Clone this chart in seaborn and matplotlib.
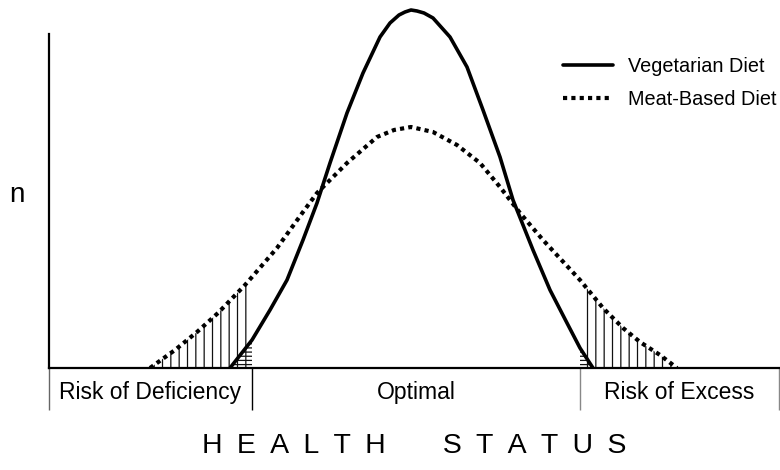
import numpy as np
import seaborn as sns
import matplotlib.pyplot as plt
from matplotlib.transforms import blended_transform_factory

# health status (arbitrary units) vs n
veg_x = [181, 203, 221, 238, 254, 268, 281, 298, 314, 331, 341, 350, 356, 362, 368,
         375, 384, 401, 418, 434, 451, 464, 484, 501, 518, 531, 544]
veg_y = [0, 28, 58, 88, 128, 165, 205, 255, 295, 331, 345, 353, 356, 358, 357,
         355, 350, 331, 301, 258, 211, 168, 118, 78, 45, 20, 0]

meat_x = [101, 126, 148, 169, 196, 203, 228, 254, 268, 298, 328, 345, 362, 384,
          408, 431, 451, 471, 494, 531, 554, 574, 591, 611, 628]
meat_y = [0, 18, 36, 55, 83, 91, 120, 156, 175, 205, 231, 238, 241, 236,
          223, 205, 181, 155, 128, 88, 60, 40, 26, 13, 0]

zone_edges = [0, 203, 531, 730]
zone_labels = ["Risk of Deficiency", "Optimal", "Risk of Excess"]

sns.set_theme(style="white")
plt.rcParams['font.family'] = ['Liberation Sans', 'DejaVu Sans']
plt.rcParams['text.color'] = 'black'
plt.rcParams['axes.labelcolor'] = 'black'
plt.rcParams['hatch.linewidth'] = 0.9

fig = plt.figure(figsize=(7.8, 4.7), dpi=100)
ax = fig.add_axes([49 / 780, 102 / 470, 731 / 780, 363 / 470])

sns.lineplot(x=veg_x, y=veg_y, sort=False, estimator=None, color='black',
             linewidth=2.6, label='Vegetarian Diet', ax=ax)
sns.lineplot(x=meat_x, y=meat_y, sort=False, estimator=None, color='black',
             linewidth=3.0, linestyle=(0, (1, 1)), label='Meat-Based Diet', ax=ax)

# shaded tails outside the optimal zone
mx, my = np.array(meat_x), np.array(meat_y)
vx, vy = np.array(veg_x), np.array(veg_y)
lo, hi = zone_edges[1], zone_edges[2]
for m in [mx <= lo, mx >= hi]:
    ax.fill_between(mx[m], 0, my[m], facecolor='none', edgecolor='#111111',
                    hatch='||', linewidth=0)
for m in [vx <= lo, vx >= hi]:
    ax.fill_between(vx[m], 0, vy[m], facecolor='none', edgecolor='#111111',
                    hatch='----', linewidth=0)

ax.set_xlim(0, 731)
ax.set_ylim(0, 363)
ax.set_xticks([])
ax.set_yticks([])
for s in ['top', 'right']:
    ax.spines[s].set_visible(False)
ax.spines['left'].set_linewidth(1.6)
ax.spines['left'].set_color('black')
ax.spines['left'].set_bounds(0, 334)
ax.spines['bottom'].set_linewidth(1.6)
ax.spines['bottom'].set_color('black')

# zone band under the axis
trans = blended_transform_factory(ax.transData, ax.transAxes)
ax.vlines(zone_edges, -0.116, 0, transform=trans, clip_on=False,
          colors=['#666666', 'black', '#888888', '#888888'], linewidth=1.0)
for i, lab in enumerate(zone_labels):
    c = (zone_edges[i] + zone_edges[i + 1]) / 2
    ax.text(c, -0.0854, lab, transform=trans, ha='center', va='baseline',
            fontsize=16.5, color='black')

ax.set_ylabel('n', rotation=0, fontsize=20, color='black', va='baseline', ha='center')
ax.yaxis.set_label_coords(-0.0445, 0.457)

sp = '\u2002'
xlab = sp.join('HEALTH') + sp * 4 + sp.join('STATUS')
ax.set_xlabel(xlab, fontsize=20.5, color='black', va='baseline', ha='center')
ax.xaxis.set_label_coords(0.5, -0.234)

leg = ax.legend(loc='upper left', bbox_to_anchor=(0.703, 0.857), frameon=False,
                borderpad=0, borderaxespad=0, handlelength=2.5, handletextpad=0.8,
                labelspacing=0.7, prop={'size': 14.3})
for t in leg.get_texts():
    t.set_color('black')

fig.savefig('out.png', dpi=100)
plt.close()
